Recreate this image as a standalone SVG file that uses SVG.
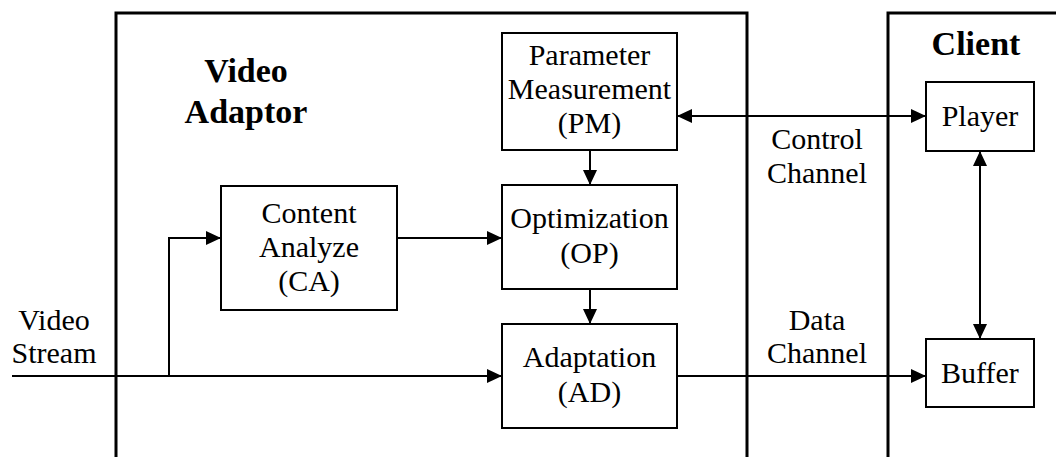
<svg xmlns="http://www.w3.org/2000/svg" width="1056" height="457" viewBox="0 0 1056 457">
<style>
.frame{fill:none;stroke:#000;stroke-width:3}
.box{fill:#fff;stroke:#000;stroke-width:2}
.ln{fill:none;stroke:#000;stroke-width:2}
text{font-family:"Liberation Serif","Times New Roman",serif;font-size:30px;fill:#000;text-anchor:middle}
.b{font-weight:bold;font-size:34px}
</style>
<defs>
<marker id="ah" viewBox="0 0 15 14" refX="15" refY="7" markerWidth="15" markerHeight="14" markerUnits="userSpaceOnUse" orient="auto-start-reverse">
<path d="M0,0 L15,7 L0,14 Z" fill="#000"/>
</marker>
</defs>
<rect width="1056" height="457" fill="#fff"/>
<g id="video-adaptor">
<path class="frame" d="M116,460 V13 H747 V460"/>
<text class="b" x="246" y="82">Video</text>
<text class="b" x="246" y="123">Adaptor</text>
</g>
<g id="client">
<path class="frame" d="M888,460 V13 H1060"/>
<text class="b" x="976" y="55">Client</text>
</g>
<g id="connectors">
<line class="ln" x1="677" y1="116" x2="926" y2="116" marker-start="url(#ah)" marker-end="url(#ah)"/>
<line class="ln" x1="590" y1="150" x2="590" y2="185" marker-end="url(#ah)"/>
<line class="ln" x1="590" y1="289" x2="590" y2="324" marker-end="url(#ah)"/>
<line class="ln" x1="397" y1="238" x2="502" y2="238" marker-end="url(#ah)"/>
<line class="ln" x1="12" y1="376" x2="502" y2="376" marker-end="url(#ah)"/>
<polyline class="ln" points="169,376 169,238 221,238" marker-end="url(#ah)"/>
<line class="ln" x1="677" y1="376" x2="926" y2="376" marker-end="url(#ah)"/>
<line class="ln" x1="980" y1="151" x2="980" y2="339" marker-start="url(#ah)" marker-end="url(#ah)"/>
</g>
<g id="pm">
<rect class="box" x="502" y="33" width="175" height="117"/>
<text x="589.5" y="65">Parameter</text>
<text x="589.5" y="99">Measurement</text>
<text x="589.5" y="133">(PM)</text>
</g>
<g id="ca">
<rect class="box" x="221" y="186" width="176" height="124"/>
<text x="309" y="223">Content</text>
<text x="309" y="257">Analyze</text>
<text x="309" y="291">(CA)</text>
</g>
<g id="op">
<rect class="box" x="502" y="185" width="175" height="104"/>
<text x="589.5" y="228">Optimization</text>
<text x="589.5" y="263">(OP)</text>
</g>
<g id="ad">
<rect class="box" x="502" y="324" width="175" height="104"/>
<text x="589.5" y="367">Adaptation</text>
<text x="589.5" y="402">(AD)</text>
</g>
<g id="player">
<rect class="box" x="926" y="82" width="108" height="69"/>
<text x="980" y="126">Player</text>
</g>
<g id="buffer">
<rect class="box" x="926" y="339" width="108" height="68"/>
<text x="980" y="383">Buffer</text>
</g>
<g id="labels">
<text x="54" y="330">Video</text>
<text x="54" y="363">Stream</text>
<text x="817" y="149">Control</text>
<text x="817" y="183">Channel</text>
<text x="817" y="330">Data</text>
<text x="817" y="363">Channel</text>
</g>
</svg>
